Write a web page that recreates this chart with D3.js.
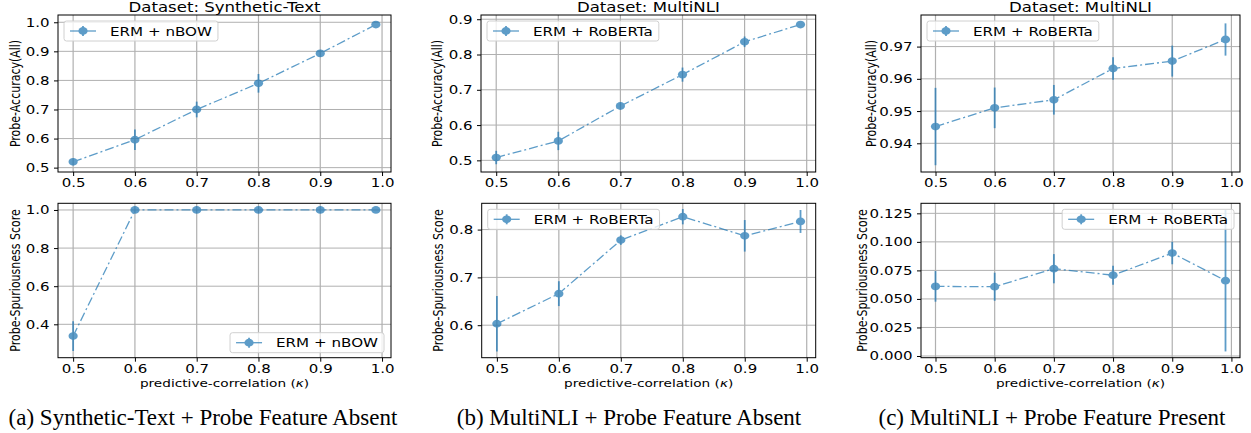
<!DOCTYPE html>
<html>
<head>
<meta charset="utf-8">
<script src="https://cdn.jsdelivr.net/npm/d3@7"></script>
<style>
  body { margin: 0; background: #fff; }
  svg { display: block; }
  text { font-family: "DejaVu Sans", sans-serif; fill: #000; }
</style>
</head>
<body>
<div id="chart"></div>
<script>
// predictive-correlation values (x axis) and tick labels
const kappa = [0.5, 0.6, 0.7, 0.8, 0.9, 0.99]
const kappaTicks = [0.5, 0.6, 0.7, 0.8, 0.9, 1.0]

// (a) Synthetic-Text, ERM + nBOW
const synthAccMean = [0.520, 0.596, 0.700, 0.790, 0.893, 0.992]
const synthAccErr = [0.005, 0.035, 0.027, 0.032, 0.008, 0.004]
const synthSpurMean = [0.338, 1.0, 1.0, 1.0, 1.0, 1.0]
const synthSpurErr = [0.078, 0.003, 0.002, 0.002, 0.002, 0.002]

// (b) MultiNLI, probe feature absent, ERM + RoBERTa
const mnliAbsAccMean = [0.508, 0.555, 0.654, 0.743, 0.836, 0.885]
const mnliAbsAccErr = [0.019, 0.026, 0.007, 0.020, 0.015, 0.004]
const mnliAbsSpurMean = [0.603, 0.666, 0.778, 0.827, 0.787, 0.817]
const mnliAbsSpurErr = [0.058, 0.026, 0.010, 0.016, 0.033, 0.024]

// (c) MultiNLI, probe feature present, ERM + RoBERTa
const mnliPresAccMean = [0.9452, 0.9510, 0.9535, 0.9632, 0.9655, 0.9722]
const mnliPresAccErr = [0.0120, 0.0063, 0.0046, 0.0035, 0.0048, 0.0050]
const mnliPresSpurMean = [0.0610, 0.0607, 0.0765, 0.0708, 0.0902, 0.0660]
const mnliPresSpurErr = [0.0134, 0.0123, 0.0128, 0.0083, 0.0098, 0.0620]

const titles = ["Dataset: Synthetic-Text", "Dataset: MultiNLI", "Dataset: MultiNLI"]
const captions = [
    "(a) Synthetic-Text + Probe Feature Absent",
    "(b) MultiNLI + Probe Feature Absent",
    "(c) MultiNLI + Probe Feature Present"
]

const width = 1251, height = 433
const sx = 1.22   // the original figure is stretched horizontally
const blue = "#1f77b4"
const xDomain = [0.4755, 1.0145]

// layout of the six axes
const panels = [
    { x0: 58, x1: 391, y0: 15, y1: 172, yDomain: [0.485, 1.025], yTicks: [0.5, 0.6, 0.7, 0.8, 0.9, 1.0], fmt: ".1f",
      mean: synthAccMean, err: synthAccErr, label: "ERM + nBOW", loc: "ul", title: titles[0], ylab: "Probe-Accuracy(All)", ylabX: 19.5, xlab: false },
    { x0: 481, x1: 815.7, y0: 15, y1: 172, yDomain: [0.467, 0.912], yTicks: [0.5, 0.6, 0.7, 0.8, 0.9], fmt: ".1f",
      mean: mnliAbsAccMean, err: mnliAbsAccErr, label: "ERM + RoBERTa", loc: "ul", title: titles[1], ylab: "Probe-Accuracy(All)", ylabX: 442, xlab: false },
    { x0: 921, x1: 1240, y0: 15, y1: 172, yDomain: [0.9311, 0.9798], yTicks: [0.94, 0.95, 0.96, 0.97], fmt: ".2f",
      mean: mnliPresAccMean, err: mnliPresAccErr, label: "ERM + RoBERTa", loc: "ul", title: titles[2], ylab: "Probe-Accuracy(All)", ylabX: 876, xlab: false },
    { x0: 58, x1: 391, y0: 203.3, y1: 357.7, yDomain: [0.2247, 1.035], yTicks: [0.4, 0.6, 0.8, 1.0], fmt: ".1f",
      mean: synthSpurMean, err: synthSpurErr, label: "ERM + nBOW", loc: "lr", title: null, ylab: "Probe-Spuriousness Score", ylabX: 19.5, xlab: true },
    { x0: 481.7, x1: 815.7, y0: 203.3, y1: 357.7, yDomain: [0.532, 0.855], yTicks: [0.6, 0.7, 0.8], fmt: ".1f",
      mean: mnliAbsSpurMean, err: mnliAbsSpurErr, label: "ERM + RoBERTa", loc: "ul", title: null, ylab: "Probe-Spuriousness Score", ylabX: 442.5, xlab: true },
    { x0: 921, x1: 1240, y0: 203.3, y1: 357.7, yDomain: [-0.0015, 0.1338], yTicks: [0, 0.025, 0.05, 0.075, 0.1, 0.125], fmt: ".3f",
      mean: mnliPresSpurMean, err: mnliPresSpurErr, label: "ERM + RoBERTa", loc: "ur", title: null, ylab: "Probe-Spuriousness Score", ylabX: 867, xlab: true }
]

const svg = d3.select("#chart").append("svg")
    .attr("width", width)
    .attr("height", height)

svg.append("rect").attr("width", width).attr("height", height).attr("fill", "#fff")

// stretched text helper
function sText(g, x, y, str, size, anchor) {
    return g.append("text")
        .attr("transform", `translate(${x},${y}) scale(${sx},1)`)
        .attr("text-anchor", anchor || "middle")
        .style("font-size", size + "px")
        .text(str)
}

panels.forEach((p, i) => {
    const g = svg.append("g")
    const x = d3.scaleLinear().domain(xDomain).range([p.x0, p.x1])
    const y = d3.scaleLinear().domain(p.yDomain).range([p.y1, p.y0])

    const clipId = "clip" + i
    g.append("clipPath").attr("id", clipId)
        .append("rect")
        .attr("x", p.x0).attr("y", p.y0)
        .attr("width", p.x1 - p.x0).attr("height", p.y1 - p.y0)

    // grid
    g.append("g").selectAll("line").data(kappaTicks).join("line")
        .attr("x1", d => x(d)).attr("x2", d => x(d))
        .attr("y1", p.y0).attr("y2", p.y1)
        .attr("stroke", "#b0b0b0").attr("stroke-width", 1.2)
    g.append("g").selectAll("line").data(p.yTicks).join("line")
        .attr("x1", p.x0).attr("x2", p.x1)
        .attr("y1", d => y(d)).attr("y2", d => y(d))
        .attr("stroke", "#b0b0b0").attr("stroke-width", 1)

    // axes
    const ax = g.append("g")
        .attr("transform", `translate(0,${p.y1})`)
        .call(d3.axisBottom(x).tickValues(kappaTicks).tickFormat(d3.format(".1f")).tickSize(4).tickPadding(2.5))
    const ay = g.append("g")
        .attr("transform", `translate(${p.x0},0)`)
        .call(d3.axisLeft(y).tickValues(p.yTicks).tickFormat(d3.format(p.fmt)).tickSize(4).tickPadding(4.5))
    ;[ax, ay].forEach(a => {
        a.select(".domain").remove()
        a.selectAll(".tick line").attr("stroke", "#000").attr("stroke-width", 1)
        a.selectAll(".tick text")
            .style("font-size", "12.3px")
            .style("font-family", "DejaVu Sans, sans-serif")
            .attr("fill", "#000")
    })
    ay.selectAll(".tick text").each(function () {
        const t = d3.select(this)
        t.attr("x", +t.attr("x") / sx).attr("transform", `scale(${sx},1)`)
    })
    ax.selectAll(".tick text").attr("transform", `scale(${sx},1)`)

    // frame
    g.append("rect")
        .attr("x", p.x0).attr("y", p.y0)
        .attr("width", p.x1 - p.x0).attr("height", p.y1 - p.y0)
        .attr("fill", "none").attr("stroke", "#000").attr("stroke-width", 1)

    // data
    const pts = kappa.map((k, j) => ({ k: k, m: p.mean[j], e: p.err[j] }))
    const plot = g.append("g").attr("clip-path", `url(#${clipId})`).attr("opacity", 0.72)
    plot.append("path")
        .datum(pts)
        .attr("d", d3.line().x(d => x(d.k)).y(d => y(d.m)))
        .attr("fill", "none")
        .attr("stroke", blue)
        .attr("stroke-width", 1.3)
        .attr("stroke-dasharray", "9,3,2,3")
    plot.selectAll(".eb").data(pts).join("line")
        .attr("x1", d => x(d.k)).attr("x2", d => x(d.k))
        .attr("y1", d => y(d.m - d.e)).attr("y2", d => y(d.m + d.e))
        .attr("stroke", blue).attr("stroke-width", 1.8)
    plot.selectAll("ellipse").data(pts).join("ellipse")
        .attr("cx", d => x(d.k)).attr("cy", d => y(d.m))
        .attr("rx", 4.6).attr("ry", 3.9)
        .attr("fill", blue)

    // title
    if (p.title) sText(g, (p.x0 + p.x1) / 2, 11.5, p.title, 13.6)

    // y label
    g.append("text")
        .attr("transform", `translate(${p.ylabX},${(p.y0 + p.y1) / 2}) scale(${sx},1) rotate(-90)`)
        .attr("text-anchor", "middle")
        .style("font-size", "11px")
        .text(p.ylab)

    // x label
    if (p.xlab) {
        const xl = g.append("text")
            .attr("transform", `translate(${(p.x0 + p.x1) / 2},386.5) scale(${sx},1)`)
            .attr("text-anchor", "middle")
            .style("font-size", "11.2px")
        xl.append("tspan").text("predictive-correlation (")
        xl.append("tspan").style("font-style", "italic").text("κ")
        xl.append("tspan").text(")")
    }

    // legend
    const lg = g.append("g")
    const lt = sText(lg, 0, 0, p.label, 12.4, "start")
    const tw = lt.node().getComputedTextLength() * sx
    const lw = 46 + tw + 6, lh = 20
    let lx, ly
    if (p.loc === "ul") { lx = p.x0 + 6; ly = p.y0 + 6 }
    else if (p.loc === "ur") { lx = p.x1 - 6 - lw; ly = p.y0 + 6 }
    else { lx = p.x1 - 7 - lw; ly = p.y1 - 5 - lh }
    lg.insert("rect", "text")
        .attr("x", lx).attr("y", ly).attr("width", lw).attr("height", lh)
        .attr("rx", 2.5)
        .attr("fill", "rgba(255,255,255,0.8)")
        .attr("stroke", "#d0d0d0").attr("stroke-width", 1)
    lt.attr("transform", `translate(${lx + 46},${ly + lh / 2 + 4.5}) scale(${sx},1)`)
    const hg = lg.append("g").attr("opacity", 0.72)
    hg.append("line")
        .attr("x1", lx + 6).attr("x2", lx + 32)
        .attr("y1", ly + lh / 2).attr("y2", ly + lh / 2)
        .attr("stroke", blue).attr("stroke-width", 1.3)
    hg.append("line")
        .attr("x1", lx + 19).attr("x2", lx + 19)
        .attr("y1", ly + lh / 2 - 5).attr("y2", ly + lh / 2 + 5)
        .attr("stroke", blue).attr("stroke-width", 1.8)
    hg.append("ellipse")
        .attr("cx", lx + 19).attr("cy", ly + lh / 2)
        .attr("rx", 4.6).attr("ry", 3.9)
        .attr("fill", blue)
})

// sub-figure captions
const capX = [203, 629, 1052]
svg.selectAll(".caption").data(captions).join("text")
    .attr("class", "caption")
    .attr("x", (d, i) => capX[i])
    .attr("y", 425)
    .attr("text-anchor", "middle")
    .style("font-family", "Liberation Serif, serif")
    .style("font-size", "23px")
    .text(d => d)
</script>
</body>
</html>
